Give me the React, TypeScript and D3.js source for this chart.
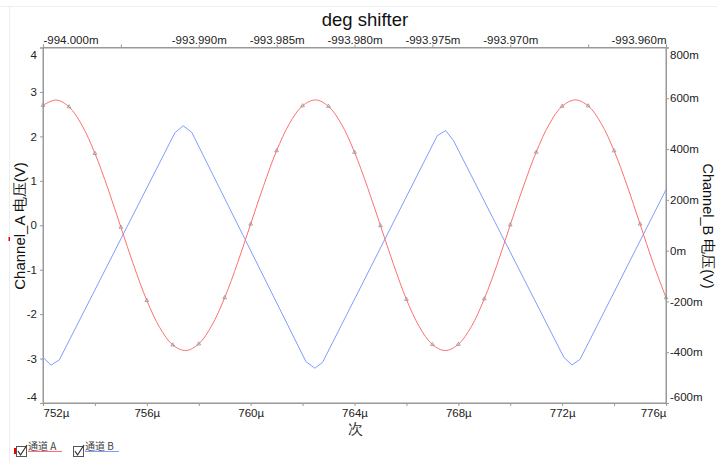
import React, { useEffect, useRef } from "react";
import * as d3 from "d3";

// Channel_A (left axis, V): samples every 0.5 µs from 752 µs
const chanAStartUs = 752;
const chanAStepUs = 0.5;
const chanAValues = [
  2.698, 2.819, 2.666, 2.252, 1.618, 0.827, -0.044, -0.912, -1.692, -2.305,
  -2.694, -2.82, -2.67, -2.259, -1.629, -0.84, 0.027, 0.893, 1.678, 2.294,
  2.689, 2.82, 2.676, 2.272, 1.642, 0.857, -0.009, -0.876, -1.667, -2.286,
  -2.684, -2.82, -2.68, -2.283, -1.656, -0.873, 0.009, 0.861, 1.646, 2.273,
  2.679, 2.82, 2.688, 2.294, 1.676, 0.895, 0.027, -0.844, -1.631,
];

// Channel_B (right axis, V): vertices of the triangle-like wave
const chanBTimes = [
  752.0, 752.31, 752.63, 757.08, 757.4, 757.73, 762.13, 762.47, 762.77,
  767.19, 767.51, 767.81, 772.07, 772.38, 772.69, 776.0,
];
const chanBValues = [
  -0.42, -0.451, -0.43, 0.464, 0.492, 0.466, -0.437, -0.463, -0.44, 0.453,
  0.473, 0.434, -0.421, -0.45, -0.428, 0.24,
];

const leftTicks = [-4, -3, -2, -1, 0, 1, 2, 3, 4];
const rightTicks = [-0.6, -0.4, -0.2, 0, 0.2, 0.4, 0.6, 0.8];
const rightLabels = ["-600m", "-400m", "-200m", "0m", "200m", "400m", "600m", "800m"];
const bottomTicks = [752, 754, 756, 758, 760, 762, 764, 766, 768, 770, 772, 774, 776];
const bottomLabels = ["752µ", "", "756µ", "", "760µ", "", "764µ", "", "768µ", "", "772µ", "", "776µ"];
const topTicks = [-994.0, -993.995, -993.99, -993.985, -993.98, -993.975, -993.97, -993.965, -993.96];
const topLabels = [
  "-994.000m", "", "-993.990m", "-993.985m", "-993.980m", "-993.975m", "-993.970m", "", "-993.960m",
];

const W = 717;
const H = 463;
const FONT = "Liberation Sans, Arial, sans-serif";

const Chart = () => {
  const ref = useRef<SVGSVGElement>(null);

  useEffect(() => {
    document.body.style.margin = "0";
    const svg = d3.select(ref.current);
    svg.selectAll("*").remove();

    const x0 = 43, x1 = 666, y0 = 47.5, y1 = 403;

    const x = d3.scaleLinear().domain([752, 776]).range([x0, x1]);
    const xTop = d3.scaleLinear().domain([-994.0, -993.96]).range([x0, x1]);
    const yL = d3.scaleLinear().domain([-4, 4]).range([y1, y0]);
    const yR = d3.scaleLinear().domain([-0.6, 0.8]).range([y1, y0]);

    // faint window borders
    svg.append("line").attr("x1", 0).attr("x2", W).attr("y1", 6.5).attr("y2", 6.5).attr("stroke", "#eeeeee");
    svg.append("line").attr("x1", 9.5).attr("x2", 9.5).attr("y1", 6).attr("y2", H).attr("stroke", "#eeeeee");

    // plot frame
    svg.append("rect")
      .attr("x", x0).attr("y", y0)
      .attr("width", x1 - x0).attr("height", y1 - y0)
      .attr("fill", "white").attr("stroke", "#999").attr("stroke-width", 1);

    const styleAxis = (g) => {
      g.attr("font-family", FONT).attr("font-size", 11.5);
      g.selectAll("path").attr("stroke", "#999");
      g.selectAll("line").attr("stroke", "#999");
      g.selectAll("text").attr("fill", "#222");
    };

    // left axis
    const gL = svg.append("g").attr("transform", `translate(${x0},0)`)
      .call(d3.axisLeft(yL).tickValues(leftTicks).tickSize(3).tickPadding(3).tickFormat((d) => String(d)));
    styleAxis(gL);
    gL.selectAll("text").filter((d) => d === 4).attr("y", 7);
    gL.selectAll("text").filter((d) => d === -4).attr("y", -6);

    // right axis
    const gR = svg.append("g").attr("transform", `translate(${x1},0)`)
      .call(d3.axisRight(yR).tickValues(rightTicks).tickSize(3).tickPadding(1)
        .tickFormat((d, i) => rightLabels[i]));
    styleAxis(gR);
    gR.selectAll("text").filter((d) => d === 0.8).attr("y", 7);
    gR.selectAll("text").filter((d) => d === -0.6).attr("y", -6);

    // bottom axis
    const gB = svg.append("g").attr("transform", `translate(0,${y1})`)
      .call(d3.axisBottom(x).tickValues(bottomTicks).tickSize(3).tickPadding(3)
        .tickFormat((d, i) => bottomLabels[i]));
    styleAxis(gB);
    gB.selectAll("text").filter((d) => d === 752).attr("text-anchor", "start");
    gB.selectAll("text").filter((d) => d === 776).attr("text-anchor", "end");

    // top axis
    const gT = svg.append("g").attr("transform", `translate(0,${y0})`)
      .call(d3.axisTop(xTop).tickValues(topTicks).tickSize(3).tickPadding(1)
        .tickFormat((d, i) => topLabels[i]));
    styleAxis(gT);
    gT.selectAll("text").filter((d, i) => i === 0).attr("text-anchor", "start");
    gT.selectAll("text").filter((d, i) => i === topTicks.length - 1).attr("text-anchor", "end");

    // series
    const chanA = chanAValues.map((v, i) => ({ t: chanAStartUs + i * chanAStepUs, v }));
    const chanB = chanBTimes.map((t, i) => ({ t, v: chanBValues[i] }));

    svg.append("path")
      .datum(chanB)
      .attr("fill", "none")
      .attr("stroke", "#7f9dff")
      .attr("stroke-width", 1)
      .attr("d", d3.line().x((d) => x(d.t)).y((d) => yR(d.v)));

    svg.append("path")
      .datum(chanA)
      .attr("fill", "none")
      .attr("stroke", "#ff6f6f")
      .attr("stroke-width", 1)
      .attr("d", d3.line().curve(d3.curveCatmullRom).x((d) => x(d.t)).y((d) => yL(d.v)));

    // markers every 1 µs on Channel_A
    svg.selectAll(".mark")
      .data(chanA.filter((d, i) => i % 2 === 0))
      .enter()
      .append("path")
      .attr("class", "mark")
      .attr("transform", (d) => `translate(${x(d.t)},${yL(d.v)})`)
      .attr("d", d3.symbol(d3.symbolTriangle, 6)())
      .attr("fill", "none")
      .attr("stroke", "#8a8a8a")
      .attr("stroke-width", 0.7);

    // title
    svg.append("text")
      .attr("x", 365).attr("y", 26)
      .attr("text-anchor", "middle")
      .attr("font-family", FONT).attr("font-size", 18.5).attr("fill", "#111")
      .text("deg shifter");

    // axis titles
    svg.append("text")
      .attr("transform", "translate(25,226) rotate(-90)")
      .attr("text-anchor", "middle")
      .attr("font-family", FONT).attr("font-size", 15).attr("fill", "#111")
      .text("Channel_A 电压(V)");

    svg.append("text")
      .attr("transform", "translate(703,226) rotate(90)")
      .attr("text-anchor", "middle")
      .attr("font-family", FONT).attr("font-size", 14.5).attr("fill", "#111")
      .text("Channel_B 电压(V)");

    svg.append("text")
      .attr("x", 355).attr("y", 434)
      .attr("text-anchor", "middle")
      .attr("font-family", FONT).attr("font-size", 15).attr("fill", "#333")
      .text("次");

    // small red marks
    svg.append("rect").attr("x", 8.5).attr("y", 237).attr("width", 1.5).attr("height", 4).attr("fill", "#e00");
    svg.append("rect").attr("x", 14).attr("y", 448).attr("width", 2).attr("height", 6).attr("fill", "#e00");

    // legend
    const legend = [
      { label: "通道 A", color: "#ff7070", bx: 16 },
      { label: "通道 B", color: "#7f9dff", bx: 73 },
    ];
    legend.forEach((l) => {
      const g = svg.append("g").attr("transform", `translate(${l.bx},446)`);
      g.append("rect").attr("x", 0.5).attr("y", 0.5).attr("width", 10).attr("height", 10)
        .attr("fill", "white").attr("stroke", "#555");
      g.append("path").attr("d", "M2,5 L4.5,9 L11,-1").attr("fill", "none").attr("stroke", "#333").attr("stroke-width", 1.2);
      g.append("text").attr("x", 12).attr("y", 3.5)
        .attr("font-family", "Noto Sans CJK SC, " + FONT).attr("font-size", 10).attr("fill", "#444")
        .text(l.label);
      g.append("line").attr("x1", 12).attr("x2", 46).attr("y1", 5.5).attr("y2", 5.5)
        .attr("stroke", l.color).attr("stroke-width", 1);
    });
  }, []);

  return <svg ref={ref} width={W} height={H} style={{ display: "block", background: "white" }} />;
};

export default function App() {
  return <Chart />;
}
